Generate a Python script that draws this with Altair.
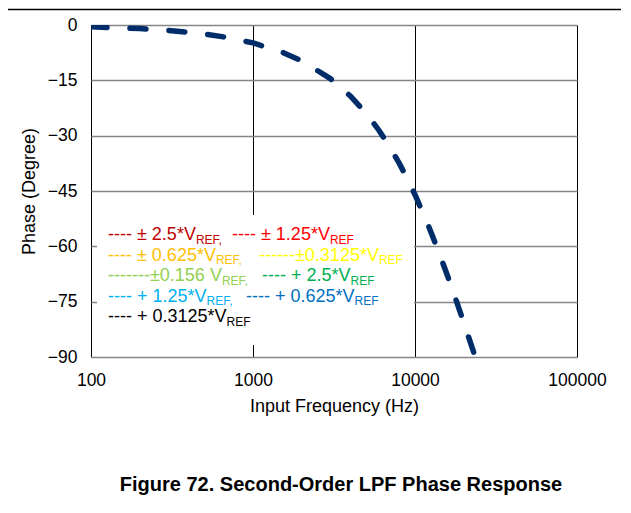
import altair as alt
import pandas as pd

# ---- data ----
freq_hz = [100, 200, 300, 500, 700, 1000, 1500, 2000, 3000, 4000, 5000, 6000,
           7000, 8000, 9000, 10000, 12000, 14000, 16000, 18000, 20000, 22000, 23550]
phase_deg = [-0.49, -0.97, -1.46, -2.43, -3.40, -4.86, -7.29, -9.71, -14.52, -19.28,
             -23.97, -28.59, -33.11, -37.53, -41.84, -46.0, -54.0, -61.5, -68.4,
             -74.8, -80.7, -86.1, -90.0]
x_ticks = [100, 1000, 10000, 100000]
y_ticks = [0, -15, -30, -45, -60, -75, -90]

legend_main = ["---- ± 2.5*V", "---- ± 1.25*V",
               "---- ± 0.625*V", "------±0.3125*V",
               "-------±0.156 V", "---- + 2.5*V",
               "---- + 1.25*V", "---- + 0.625*V",
               "---- + 0.3125*V"]
legend_sub = ["REF,", "REF", "REF,", "REF", "REF,", "REF", "REF,", "REF", "REF"]
legend_colors = ["#C00000", "#FF0000", "#FFC000", "#FFFF00", "#92D050",
                 "#00B050", "#00B0F0", "#0070C0", "#000000"]

title_text = "Figure 72. Second-Order LPF Phase Response"

# ---- layout ----
W, H = 486, 332
PAD_L, PAD_T, PAD_R, PAD_B = 83, 17, 44, 148
FONT = "Liberation Sans"
NAVY = "#002D6A"
MAIN_FS, SUB_FS = 18, 12
col1_x = 17                       # relative to plot left
col2_x = [141, 168, 171, 155]     # per row
row_y0, row_dy = 215, 20.5


def text_width(s, size):
    w = {'-': 0.333, ' ': 0.278, '±': 0.549, '.': 0.278, '*': 0.389,
         'V': 0.667, '+': 0.584, ',': 0.278}
    return sum(w.get(c, 0.556) for c in s) * size


df = pd.DataFrame({"freq": freq_hz, "phase": phase_deg})

line = alt.Chart(df).mark_line(
    color=NAVY, strokeWidth=5.5, strokeDash=[16, 23], strokeCap="round", clip=True
).encode(
    x=alt.X("freq:Q",
            scale=alt.Scale(type="log", domain=[100, 100000], nice=False),
            axis=alt.Axis(values=x_ticks, format="d", title="Input Frequency (Hz)",
                          grid=True, gridColor="black", gridWidth=1, ticks=False,
                          domain=False, labelFontSize=17.5, labelPadding=14,
                          labelFlush=False, labelColor="black", titleColor="black",
                          titleFontSize=18, titleFontWeight="normal", titlePadding=9,
                          labelFont=FONT, titleFont=FONT)),
    y=alt.Y("phase:Q",
            scale=alt.Scale(domain=[-90, 0], nice=False),
            axis=alt.Axis(values=y_ticks, title="Phase (Degree)",
                          grid=True, gridColor="#858585", gridWidth=1.5, ticks=False,
                          domain=False, labelFontSize=17.5, labelPadding=14,
                          labelColor="black", titleColor="black",
                          titleFontSize=18, titleFontWeight="normal", titlePadding=9,
                          labelFont=FONT, titleFont=FONT)),
)

box = alt.Chart(pd.DataFrame({"a": [0]})).mark_rect(fill="white").encode(
    x=alt.value(6), x2=alt.value(323), y=alt.value(190), y2=alt.value(320)
)

layers = [line, box]
for i, (m, s, c) in enumerate(zip(legend_main, legend_sub, legend_colors)):
    row, col = i // 2, i % 2
    x0 = col1_x if col == 0 else col2_x[row]
    y0 = row_y0 + row * row_dy
    layers.append(
        alt.Chart(pd.DataFrame({"t": [m]})).mark_text(
            align="left", baseline="alphabetic", fontSize=MAIN_FS, font=FONT, color=c
        ).encode(x=alt.value(x0), y=alt.value(y0), text="t:N")
    )
    layers.append(
        alt.Chart(pd.DataFrame({"t": [s]})).mark_text(
            align="left", baseline="alphabetic", fontSize=SUB_FS, font=FONT, color=c
        ).encode(x=alt.value(x0 + text_width(m, MAIN_FS)), y=alt.value(y0 + 3.5), text="t:N")
    )

top_rule = alt.Chart(pd.DataFrame({"a": [0]})).mark_rule(
    color="black", strokeWidth=1.5
).encode(x=alt.value(-PAD_L), x2=alt.value(W + PAD_R), y=alt.value(-15.5))

title = alt.Chart(pd.DataFrame({"t": [title_text]})).mark_text(
    align="center", baseline="middle", fontSize=20, fontWeight="bold", font=FONT,
    color="black"
).encode(x=alt.value(250), y=alt.value(460), text="t:N")

layers += [top_rule, title]

chart = alt.layer(*layers).properties(
    width=W, height=H,
    autosize=alt.AutoSizeParams(type="none"),
    padding={"left": PAD_L, "top": PAD_T, "right": PAD_R, "bottom": PAD_B},
    background="white",
).configure_view(stroke="black", strokeWidth=2.2).configure(font=FONT)

chart.save("out.html", embed_options={"renderer": "svg", "actions": False})
